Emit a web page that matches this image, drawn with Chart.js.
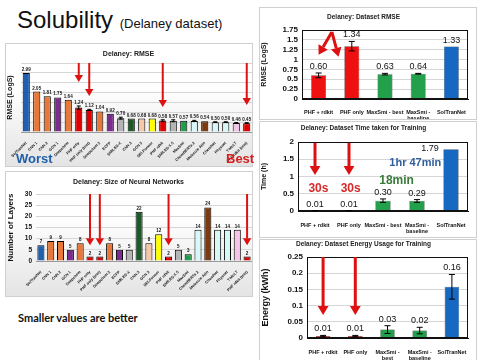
<!DOCTYPE html>
<html>
<head>
<meta charset="utf-8">
<script src="https://cdn.jsdelivr.net/npm/chart.js@4.4.1/dist/chart.umd.min.js"></script>
<style>
body { margin: 0; width: 480px; height: 360px; background: #fff; position: relative; overflow: hidden; font-family: 'Liberation Sans', Arial, sans-serif; }
.box { position: absolute; border: 1px solid #cfcfcf; box-sizing: border-box; }
.grad { background: linear-gradient(#ffffff 35%, #e4e4e4); }
canvas { position: absolute; }
.txt { position: absolute; white-space: nowrap; }
</style>
</head>
<body>

<div class="txt" style="left:17px;top:6px;font-size:24px;color:#111;">Solubility <span style="font-size:13px">(Delaney dataset)</span></div>

<div class="box grad" style="left:5px;top:43px;width:248px;height:124px;"></div>
<div class="box grad" style="left:5px;top:171px;width:248px;height:126px;"></div>
<div class="box" style="left:259px;top:7px;width:218px;height:113px;"></div>
<div class="box" style="left:259px;top:121px;width:218px;height:117px;"></div>
<div class="box" style="left:259px;top:239px;width:218px;height:122px;"></div>

<canvas id="leftRmse" width="247" height="123" style="left:5px;top:43px;"></canvas>
<canvas id="leftLayers" width="247" height="125" style="left:5px;top:171px;"></canvas>
<canvas id="rmseChart" width="217" height="112" style="left:259px;top:7px;"></canvas>
<canvas id="timeChart" width="217" height="116" style="left:259px;top:121px;"></canvas>
<canvas id="energyChart" width="217" height="121" style="left:259px;top:239px;"></canvas>

<div class="txt" style="left:16px;top:151px;font-size:13px;font-weight:bold;color:#1f5fa8;">Worst</div>
<div class="txt" style="left:226px;top:151px;font-size:13px;font-weight:bold;color:#d62020;">Best</div>
<div class="txt" style="left:18px;top:311px;font-family:Lato;font-size:11px;font-weight:bold;color:#111;">Smaller values are better</div>

<script>
// left side: all models
const leftNames = ['SolTranNet', 'CNN 1', 'CNN 2', 'GCN 1', 'Deepchem', 'PHF only', 'PHF only (test)', 'Deepchem 2',
    'ECFP', 'SMILES-X', 'CNN 3', 'GCN 3', 'SELFormer', 'PHF rdkit', 'SMILES-X 5', 'MaxSmi',
    'ChemBERTa 2', 'Molecule Attn', 'ChemNet', 'Physnet', 'T-MoLT', 'PHF rdkit (test)'];
const leftRmse = [2.99, 2.05, 1.81, 1.75, 1.64, 1.24, 1.12, 1.04, 0.92, 0.70, 0.68, 0.68, 0.68,
    0.58, 0.57, 0.57, 0.56, 0.54, 0.50, 0.50, 0.46, 0.45];
const leftRmseErr = [0, 0, 0, 0, 0, 0.08, 0.03, 0, 0, 0.05, 0, 0, 0, 0.04, 0.05, 0, 0.03, 0, 0.02, 0.02, 0.02, 0.02];
const leftLayers = [7, 9, 9, 5, 8, 2, 2, 8, 5, 5, 22, 8, 12, 2, 5, 3, 14, 24, 14, 14, 14, 2];
const leftColors = ['#1f5fb0', '#e8783a', '#e8783a', '#7b2d8e', '#e8783a', '#e00000', '#e00000', '#e8783a',
    '#7b2d8e', '#b4b4b4', '#1e5a28', '#f5c8a8', '#ffff00', '#e00000', '#b4b4b4', '#1f9e4a',
    '#d8f8f8', '#7b3a10', '#d8f8f8', '#d8f8f8', '#f5c6e8', '#e00000'];

// right side: dataset comparisons
const rmseLabels = ['PHF + rdkit', 'PHF only', 'MaxSmi - best', ['MaxSmi -', 'baseline'], 'SolTranNet'];
const rmseVals = [0.60, 1.34, 0.63, 0.64, 1.33];
const rmseErr = [0.06, 0.12, 0.02, 0.01, 0];
const timeLabels = ['PHF + rdkit', 'PHF only', 'MaxSmi - best', ['MaxSmi -', 'baseline'], 'SolTranNet'];
const timeVals = [0.01, 0.01, 0.30, 0.29, 1.79];
const timeErr = [0.004, 0.004, 0.05, 0.04, 0];
const energyLabels = ['PHF + rdkit', 'PHF only', ['MaxSmi -', 'best'], ['MaxSmi -', 'baseline'], 'SolTranNet'];
const energyVals = [0.006, 0.006, 0.026, 0.023, 0.158];
const energyErr = [0.002, 0.002, 0.012, 0.01, 0.038];
const rightColors = ['#ee1111', '#ee1111', '#22a04b', '#22a04b', '#1668c0'];

const F = "'Liberation Sans', Arial, sans-serif";
const extraCfg = {};

function arrow(ctx, x1, y1, x2, y2, w, head) {
    const a = Math.atan2(y2 - y1, x2 - x1);
    const hx = x2 - head * Math.cos(a), hy = y2 - head * Math.sin(a);
    const hw = head * 0.6;
    ctx.strokeStyle = ctx.fillStyle = '#dd1111';
    ctx.lineWidth = w;
    ctx.beginPath(); ctx.moveTo(x1, y1); ctx.lineTo(hx, hy); ctx.stroke();
    ctx.beginPath(); ctx.moveTo(x2, y2);
    ctx.lineTo(hx + hw * Math.sin(a), hy - hw * Math.cos(a));
    ctx.lineTo(hx - hw * Math.sin(a), hy + hw * Math.cos(a));
    ctx.closePath(); ctx.fill();
}

const extras = {
    id: 'extras',
    afterDatasetsDraw(chart) {
        const o = extraCfg[chart.canvas.id];
        if (!o) return;
        const ctx = chart.ctx, xs = chart.scales.x, ys = chart.scales.y;
        const meta = chart.getDatasetMeta(0), vals = chart.data.datasets[0].data;
        const px = c => xs.getPixelForValue(c), py = v => ys.getPixelForValue(v);
        ctx.save();
        if (o.frame) {
            const a = chart.chartArea;
            ctx.strokeStyle = '#111'; ctx.lineWidth = 1;
            ctx.strokeRect(a.left + 0.5, a.top + 0.5, a.right - a.left - 1, a.bottom - a.top - 1);
        }
        // error bars
        (o.err || []).forEach((e, i) => {
            if (!e) return;
            const x = meta.data[i].x, t = py(vals[i] + e), b = py(Math.max(0, vals[i] - e));
            ctx.strokeStyle = '#000'; ctx.lineWidth = 1;
            ctx.beginPath();
            ctx.moveTo(x, t); ctx.lineTo(x, b);
            ctx.moveTo(x - o.cap, t); ctx.lineTo(x + o.cap, t);
            ctx.moveTo(x - o.cap, b); ctx.lineTo(x + o.cap, b);
            ctx.stroke();
        });
        // value labels
        ctx.fillStyle = '#111'; ctx.font = o.valFont;
        ctx.textAlign = 'center'; ctx.textBaseline = 'bottom';
        vals.forEach((v, i) => {
            const top = py(v + ((o.err && o.err[i]) || 0));
            const off = (o.valOff && o.valOff[i]) || [0, 0];
            ctx.fillText(o.fmt(v), meta.data[i].x + off[0], top - o.gap + off[1]);
        });
        // arrows
        (o.arrows || []).forEach(a => {
            arrow(ctx, px(a.from[0]), py(a.from[1]), px(a.to[0]), py(a.to[1]), o.arrowW, o.arrowHead);
        });
        // notes
        (o.notes || []).forEach(n => {
            ctx.fillStyle = n.color; ctx.font = 'bold ' + n.size + 'px ' + F;
            ctx.textBaseline = 'middle';
            ctx.fillText(n.text, px(n.at[0]), py(n.at[1]));
        });
        ctx.restore();
    }
};

function barChart(id, o) {
    return new Chart(document.getElementById(id), {
        type: 'bar',
        data: {
            labels: o.labels,
            datasets: [{
                data: o.data,
                backgroundColor: o.colors,
                borderColor: o.border,
                borderWidth: o.bw,
                barPercentage: o.barPct,
                categoryPercentage: 1
            }]
        },
        options: {
            responsive: false,
            animation: false,
            layout: { padding: o.pad },
            plugins: {
                legend: { display: false },
                tooltip: { enabled: false },
                title: {
                    display: true, text: o.title, color: '#222',
                    font: { size: o.titleSize, weight: 'bold', family: F },
                    padding: o.titlePad
                }
            },
            scales: {
                x: {
                    grid: { display: false },
                    border: { color: o.axisColor },
                    ticks: {
                        color: '#111', autoSkip: false, padding: o.xPad,
                        minRotation: o.rot, maxRotation: o.rot,
                        font: { size: o.xSize, weight: 'bold', family: F, lineHeight: 1.1 }
                    },
                    afterFit: s => { s.height = o.xh; }
                },
                y: {
                    min: 0, max: o.max,
                    grid: { color: '#d6d6d6', drawTicks: false },
                    border: { display: false },
                    ticks: {
                        display: o.yTicks, count: Math.round(o.max / o.step) + 1,
                        padding: 4, color: '#111', autoSkip: false,
                        callback: v => String(Math.round(v * 100) / 100),
                        font: { size: o.ySize, weight: 'bold', family: F }
                    },
                    title: {
                        display: true, text: o.yTitle, color: '#111', padding: 1,
                        font: { size: o.yTitleSize, weight: 'bold', family: F }
                    },
                    afterFit: s => { s.width = o.yw; }
                }
            }
        },
        plugins: [extras]
    });
}

// ---- left: RMSE of all models ----
extraCfg.leftRmse = {
    err: leftRmseErr, cap: 2, gap: 1,
    valFont: 'bold 4.5px ' + F, fmt: v => v.toFixed(2),
    arrowW: 2, arrowHead: 7,
    arrows: [
        { from: [5, 3.5], to: [5, 2.54] },
        { from: [6, 3.5], to: [6, 1.83] },
        { from: [13, 3.5], to: [13, 1.27] },
        { from: [21, 3.5], to: [21, 1.37] }
    ]
};
barChart('leftRmse', {
    labels: leftNames, data: leftRmse, colors: leftColors, border: '#000', bw: 1, barPct: 0.68,
    title: 'Delaney: RMSE', titleSize: 7, titlePad: { top: 7, bottom: 4.6 },
    pad: { left: 0, right: 0, top: 0, bottom: 0 },
    axisColor: '#999', xPad: 1, rot: 45, xSize: 3.8, xh: 34,
    max: 3.5, step: 0.5, yTicks: false, ySize: 6, yTitle: 'RMSE (LogS)', yTitleSize: 7, yw: 16
});

// ---- left: size of networks ----
extraCfg.leftLayers = {
    cap: 2, gap: 1,
    valFont: 'bold 4.5px ' + F, fmt: v => String(v),
    arrowW: 2, arrowHead: 7,
    arrows: [
        { from: [5, 30], to: [5, 7] },
        { from: [6, 30], to: [6, 7] },
        { from: [13, 30], to: [13, 7] },
        { from: [21, 30], to: [21, 7] }
    ]
};
barChart('leftLayers', {
    labels: leftNames, data: leftLayers, colors: leftColors, border: '#000', bw: 1, barPct: 0.72,
    title: 'Delaney: Size of Neural Networks', titleSize: 7, titlePad: { top: 7, bottom: 7.6 },
    pad: { left: 0, right: 0, top: 0, bottom: 0 },
    axisColor: '#999', xPad: 1, rot: 45, xSize: 3.8, xh: 35,
    max: 30, step: 5, yTicks: true, ySize: 6.5, yTitle: 'Number of Layers', yTitleSize: 8, yw: 31
});

// ---- right: dataset RMSE ----
extraCfg.rmseChart = {
    frame: true, err: rmseErr, cap: 3, gap: 2,
    valFont: '9px ' + F, fmt: v => v.toFixed(2),
    arrowW: 3, arrowHead: 9,
    arrows: [
        { from: [0.4, 1.70], to: [0.0, 1.12] },
        { from: [0.4, 1.70], to: [0.6, 1.07] }
    ]
};
barChart('rmseChart', {
    labels: rmseLabels, data: rmseVals, colors: rightColors, border: '#333', bw: 0.5, barPct: 0.45,
    title: 'Delaney: Dataset RMSE', titleSize: 6.5, titlePad: { top: 6.1, bottom: 9.1 },
    pad: { left: 0, right: 8, top: 0, bottom: 0 },
    axisColor: '#111', xPad: 2, rot: 0, xSize: 5.5, xh: 20,
    max: 1.75, step: 0.25, yTicks: true, ySize: 8, yTitle: 'RMSE (LogS)', yTitleSize: 7, yw: 43
});

// ---- right: training time ----
extraCfg.timeChart = {
    frame: true, err: timeErr, cap: 3, gap: 2,
    valFont: '9px ' + F, fmt: v => v.toFixed(2),
    valOff: [[0, 0], [0, 0], [0, 0], [0, 0], [-21, 6]],
    arrowW: 3, arrowHead: 9,
    arrows: [
        { from: [0, 1.97], to: [0, 1.04] },
        { from: [1, 1.97], to: [1, 1.04] }
    ],
    notes: [
        { text: '30s', at: [0.1, 0.64], color: '#d62a2a', size: 12 },
        { text: '30s', at: [1.05, 0.64], color: '#d62a2a', size: 12 },
        { text: '18min', at: [2.4, 0.87], color: '#3a7a3a', size: 12 },
        { text: '1hr 47min', at: [2.95, 1.39], color: '#2f5f9e', size: 11 }
    ]
};
barChart('timeChart', {
    labels: timeLabels, data: timeVals, colors: rightColors, border: '#333', bw: 0.5, barPct: 0.45,
    title: 'Delaney: Dataset Time taken for Training', titleSize: 6.5, titlePad: { top: 3.1, bottom: 10.1 },
    pad: { left: 0, right: 8, top: 0, bottom: 0 },
    axisColor: '#111', xPad: 3, rot: 0, xSize: 5.5, xh: 26,
    max: 2, step: 0.5, yTicks: true, ySize: 8, yTitle: 'Time (h)', yTitleSize: 7, yw: 39
});

// ---- right: energy ----
extraCfg.energyChart = {
    frame: true, err: energyErr, cap: 3, gap: 2,
    valFont: '9px ' + F, fmt: v => v.toFixed(2),
    arrowW: 3, arrowHead: 9,
    arrows: [
        { from: [0, 0.25], to: [0, 0.071] },
        { from: [1, 0.25], to: [1, 0.071] }
    ]
};
barChart('energyChart', {
    labels: energyLabels, data: energyVals, colors: rightColors, border: '#333', bw: 0.5, barPct: 0.45,
    title: 'Delaney: Dataset Energy Usage for Training', titleSize: 6.5, titlePad: { top: 1.6, bottom: 8.6 },
    pad: { left: 0, right: 8, top: 0, bottom: 0 },
    axisColor: '#111', xPad: 3, rot: 0, xSize: 5.5, xh: 22,
    max: 0.25, step: 0.05, yTicks: true, ySize: 8, yTitle: 'Energy (kWh)', yTitleSize: 9, yw: 48
});
</script>
</body>
</html>
